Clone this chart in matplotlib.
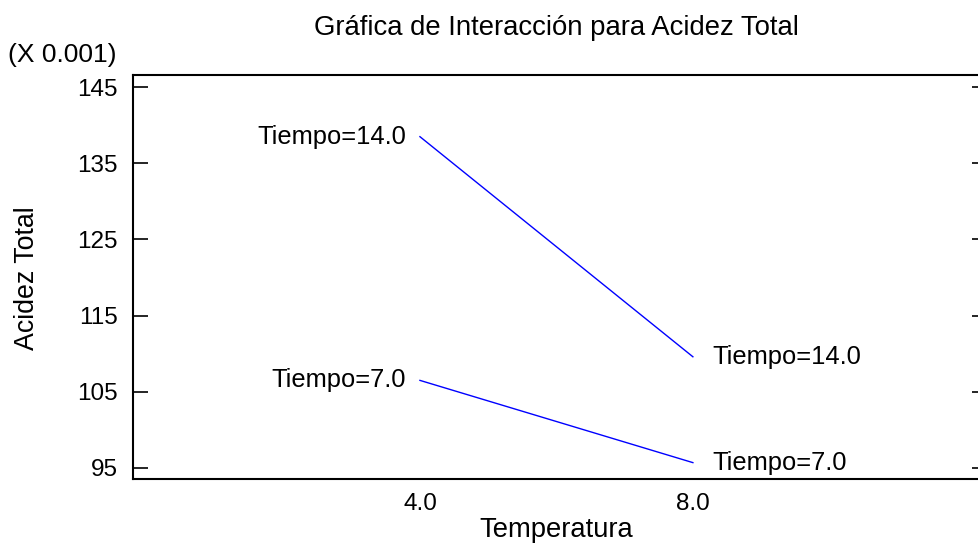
import matplotlib
matplotlib.use("Agg")
import matplotlib.pyplot as plt

plt.rcParams['font.family'] = ['Liberation Sans', 'DejaVu Sans']

temperatura = [4.0, 8.0]
tiempo_labels = ["Tiempo=7.0", "Tiempo=14.0"]
acidez_7 = [106.5, 95.7]
acidez_14 = [138.5, 109.6]
y_ticks = [95, 105, 115, 125, 135, 145]
x_ticks = [4.0, 8.0]

fig = plt.figure(figsize=(9.79, 5.5), dpi=100)
W, H = 979, 550
ax = fig.add_axes([133 / W, 1 - 479 / H, (987 - 133) / W, (479 - 75) / H])

for vals, lab in zip([acidez_7, acidez_14], tiempo_labels):
    ax.plot(temperatura, vals, color="#0000ff", lw=1.0)
    ax.text(temperatura[0] - 0.2, vals[0], lab, ha="right", va="center", fontsize=18.4)
    ax.text(temperatura[1] + 0.28, vals[1], lab, ha="left", va="center", fontsize=18.4)

ax.set_xlim(-0.205, 12.31)
ax.set_ylim(93.55, 146.6)
ax.set_xticks(x_ticks)
ax.set_xticklabels([f"{v:.1f}" for v in x_ticks], fontsize=17.5)
ax.set_yticks(y_ticks)
ax.set_yticklabels([str(v) for v in y_ticks], fontsize=17.5)
ax.tick_params(axis="x", length=0, pad=10)
ax.tick_params(axis="y", direction="in", length=11, width=1.2, right=True, pad=11)
for s in ax.spines.values():
    s.set_linewidth(1.5)

fig.text(556 / W, 1 - 530 / H, "Temperatura", ha="center", va="center", fontsize=19.7)
fig.text(27 / W, 1 - 278 / H, "Acidez Total", ha="center", va="center",
         rotation=90, fontsize=19.3)
fig.text(556 / W, 1 - 28 / H, "Gráfica de Interacción para Acidez Total",
         ha="center", va="center", fontsize=19.8)
fig.text(8 / W, 1 - 55 / H, "(X 0.001)", ha="left", va="center", fontsize=19)

fig.savefig("out.png", dpi=100)
